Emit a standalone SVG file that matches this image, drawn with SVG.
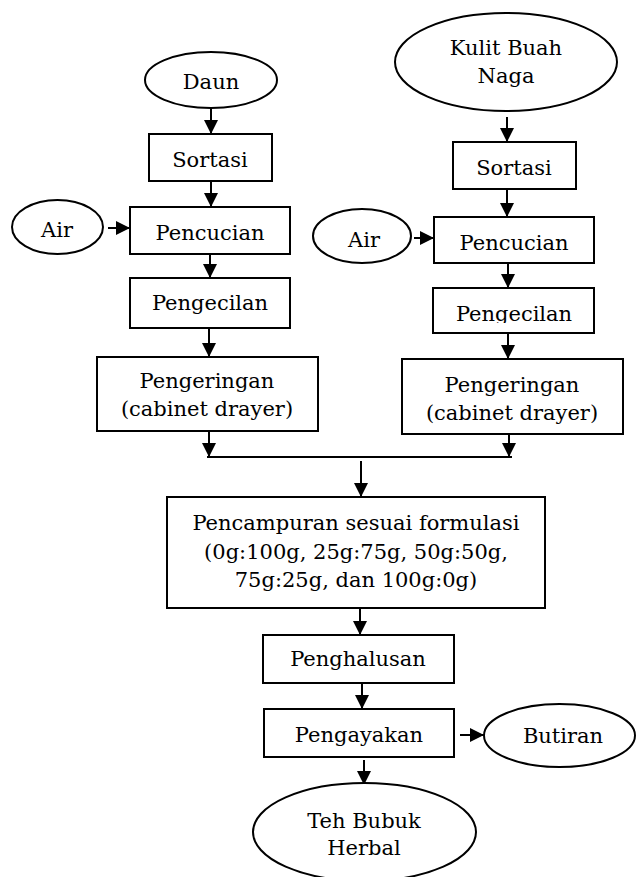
<svg xmlns="http://www.w3.org/2000/svg" width="636" height="877" viewBox="0 0 636 877">
<style>
.n{fill:#fff;stroke:#000;stroke-width:2}
.t{font-family:"DejaVu Serif","Liberation Serif",serif;font-size:21px;fill:#000;text-anchor:middle}
.c{stroke:#000;stroke-width:2;fill:none}
.a{marker-end:url(#ah)}
</style>
<defs>
<marker id="ah" markerUnits="userSpaceOnUse" markerWidth="14" markerHeight="14" refX="14" refY="7" orient="auto">
<path d="M0,0 L14,7 L0,14 z" fill="#000"/>
</marker>
<clipPath id="clipPk"><rect x="433" y="288" width="161" height="35"/></clipPath>
</defs>
<rect width="636" height="877" fill="#fff"/>

<g id="connectors">
<line class="c a" x1="211" y1="108" x2="211" y2="134"/>
<line class="c a" x1="211" y1="181" x2="211" y2="207"/>
<line class="c a" x1="108" y1="228" x2="130" y2="228"/>
<line class="c a" x1="210" y1="254" x2="210" y2="278"/>
<line class="c a" x1="209" y1="328" x2="209" y2="357"/>
<line class="c a" x1="209" y1="431" x2="209" y2="457"/>
<line class="c a" x1="507" y1="117" x2="507" y2="142"/>
<line class="c a" x1="507" y1="189" x2="507" y2="217"/>
<line class="c a" x1="414" y1="238" x2="434" y2="238"/>
<line class="c a" x1="508" y1="263" x2="508" y2="288"/>
<line class="c a" x1="508" y1="333" x2="508" y2="359"/>
<line class="c a" x1="509" y1="434" x2="509" y2="457"/>
<line class="c" x1="207" y1="457" x2="512" y2="457"/>
<line class="c a" x1="361" y1="461" x2="361" y2="497"/>
<line class="c a" x1="360" y1="608" x2="360" y2="635"/>
<line class="c a" x1="362" y1="683" x2="362" y2="709"/>
<line class="c a" x1="460" y1="735" x2="484" y2="735"/>
<line class="c a" x1="364" y1="760" x2="364" y2="785"/>
</g>

<g id="daun"><ellipse class="n" cx="211" cy="80" rx="66" ry="28"/><text class="t" x="211" y="89">Daun</text></g>
<g id="sortasi1"><rect class="n" x="149" y="134" width="123" height="47"/><text class="t" x="210" y="167">Sortasi</text></g>
<g id="air1"><ellipse class="n" cx="57.5" cy="227" rx="45.5" ry="27"/><text class="t" x="57" y="237">Air</text></g>
<g id="pencucian1"><rect class="n" x="130" y="207" width="160" height="47"/><text class="t" x="210" y="240">Pencucian</text></g>
<g id="pengecilan1"><rect class="n" x="130" y="278" width="160" height="50"/><text class="t" x="210" y="310">Pengecilan</text></g>
<g id="pengeringan1"><rect class="n" x="97" y="357" width="221" height="74"/><text class="t" x="207" y="388">Pengeringan</text><text class="t" x="207" y="416">(cabinet drayer)</text></g>

<g id="kulit"><ellipse class="n" cx="506" cy="62" rx="111" ry="49"/><text class="t" x="506" y="55">Kulit Buah</text><text class="t" x="506" y="83">Naga</text></g>
<g id="sortasi2"><rect class="n" x="453" y="142" width="123" height="47"/><text class="t" x="514" y="175">Sortasi</text></g>
<g id="air2"><ellipse class="n" cx="362" cy="236" rx="49" ry="27"/><text class="t" x="364" y="247">Air</text></g>
<g id="pencucian2"><rect class="n" x="434" y="217" width="160" height="46"/><text class="t" x="514" y="250">Pencucian</text></g>
<g id="pengecilan2"><rect class="n" x="433" y="288" width="161" height="45"/><text class="t" x="514" y="321" clip-path="url(#clipPk)">Pengecilan</text></g>
<g id="pengeringan2"><rect class="n" x="402" y="359" width="221" height="75"/><text class="t" x="512" y="392">Pengeringan</text><text class="t" x="512" y="420">(cabinet drayer)</text></g>

<g id="pencampuran"><rect class="n" x="167" y="497" width="378" height="111"/><text class="t" x="356" y="530">Pencampuran sesuai formulasi</text><text class="t" x="356" y="559">(0g:100g, 25g:75g, 50g:50g,</text><text class="t" x="356" y="587">75g:25g, dan 100g:0g)</text></g>
<g id="penghalusan"><rect class="n" x="263" y="635" width="191" height="48"/><text class="t" x="358" y="666">Penghalusan</text></g>
<g id="pengayakan"><rect class="n" x="264" y="709" width="190" height="48"/><text class="t" x="359" y="742">Pengayakan</text></g>
<g id="butiran"><ellipse class="n" cx="559.5" cy="735.5" rx="75.5" ry="31.5"/><text class="t" x="563" y="743">Butiran</text></g>
<g id="teh"><ellipse class="n" cx="364.5" cy="832" rx="111.5" ry="49"/><text class="t" x="364" y="828">Teh Bubuk</text><text class="t" x="364" y="855">Herbal</text></g>
</svg>
